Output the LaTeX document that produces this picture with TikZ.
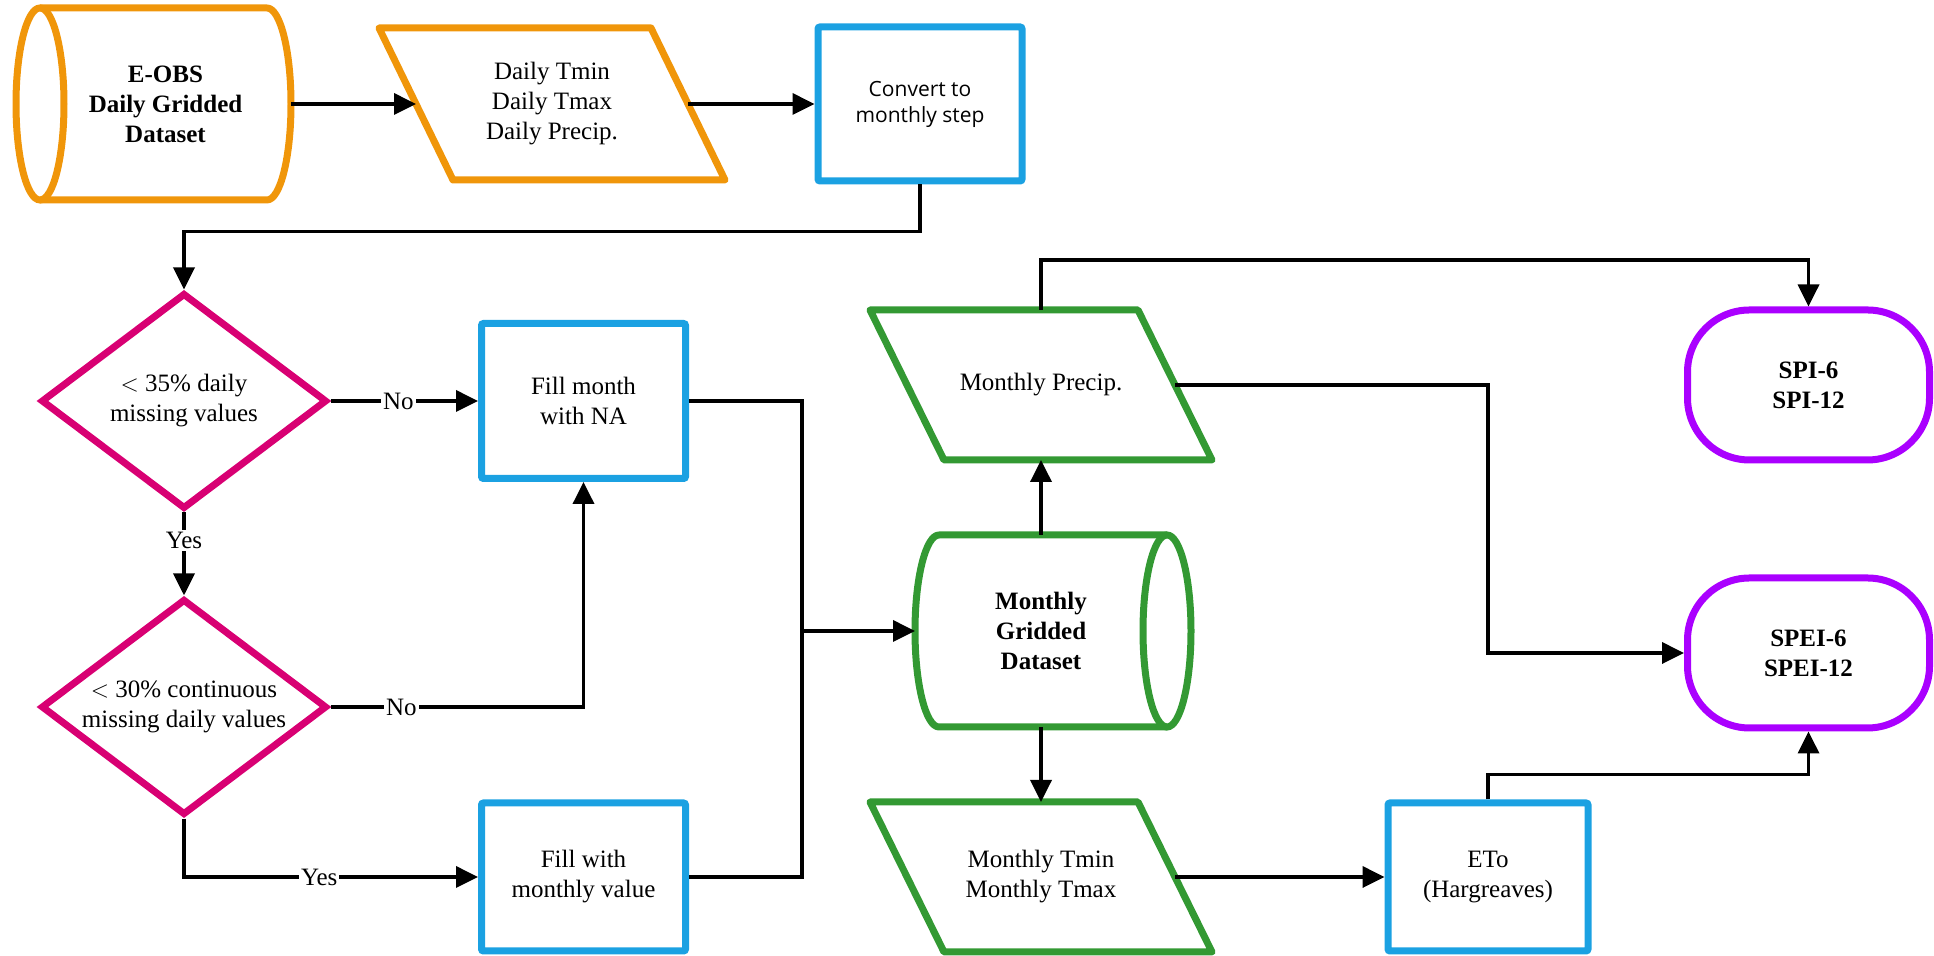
\documentclass[tikz,border=0pt]{standalone}
\usepackage{fontspec}
\setmainfont{Liberation Serif}
\newfontfamily\convfont{Open Sans}
\usetikzlibrary{shapes.geometric,arrows.meta}

\definecolor{eobsorange}{HTML}{F0960A}
\definecolor{stepblue}{HTML}{1BA1E2}
\definecolor{testpink}{HTML}{D80073}
\definecolor{monthgreen}{HTML}{339933}
\definecolor{indexpurple}{HTML}{AA00FF}

\begin{document}
\begin{tikzpicture}
  [x=1pt,y=1pt,every node/.style={align=center,font=\fontsize{12.5}{15}\selectfont,line width=3.5pt}]
 \tikzset{EdgeStyle/.style={-{Triangle[length=11pt,width=10.5pt]},line width=1.8pt}}
 \tikzset{procbox/.style={rectangle,draw=stepblue,rounded corners=1pt,minimum width=102pt,minimum height=77pt}}
 \tikzset{datashape/.style={rectangle,outer sep=0pt,minimum width=134pt,minimum height=75pt}}
 \tikzset{testshape/.style={diamond,draw=testpink,aspect=1.3,inner sep=1pt,minimum width=143pt,minimum height=108pt}}
 \tikzset{termshape/.style={rectangle,rounded corners=31pt,draw=indexpurple,minimum width=121pt,minimum height=75pt,font=\fontsize{12.5}{15}\selectfont\bfseries}}
 \tikzset{drum/.style={rectangle,outer sep=0pt,minimum height=96pt,font=\fontsize{12.5}{15}\selectfont\bfseries}}
 \tikzset{answer/.style={fill=white,inner sep=1pt}}
 \useasboundingbox (0,0) rectangle (967,478);

 \node[drum,minimum width=125.5pt] (eobs) at (82.75,426) {E-OBS\\Daily Gridded\\Dataset};
 \node[datashape,minimum width=136pt,minimum height=76pt] (daily) at (276,426) {Daily Tmin\\Daily Tmax\\Daily Precip.};
 \node[procbox,font=\convfont\fontsize{10.5}{13}\selectfont] (convert) at (460,426) {Convert to\\monthly step};
 \node[testshape] (d1) at (92,277.5) {$<$ 35\% daily\\missing values};
 \node[procbox,minimum height=77.5pt] (fillna) at (291.75,277.5) {Fill month\\with NA};
 \node[testshape] (d2) at (92,124.5) {$<$ 30\% continuous\\missing daily values};
 \node[procbox,minimum height=74pt] (fillmv) at (291.75,39.5) {Fill with\\monthly value};
 \node[drum,minimum width=126pt] (mgd) at (520.5,162.5) {Monthly\\Gridded\\Dataset};
 \node[datashape] (precip) at (520.5,285.5) {Monthly Precip.};
 \node[datashape] (tmin) at (520.5,39.5) {Monthly Tmin\\Monthly Tmax};
 \node[procbox,minimum width=100pt,minimum height=74pt] (eto) at (744,39.5) {ETo\\(Hargreaves)};
 \node[termshape] (spi) at (904.25,285.5) {SPI-6\\SPI-12};
 \node[termshape] (spei) at (904.25,151.5) {SPEI-6\\SPEI-12};
 \coordinate (j) at (401,162.5);

 % drum and data outlines
 \draw[eobsorange,line width=3.5pt,line join=round] (eobs.north west) -- ([xshift=-12pt]eobs.north east)
   arc[start angle=90,end angle=-90,x radius=12pt,y radius=48pt] -- (eobs.south west);
 \draw[eobsorange,line width=3.5pt] (eobs.west) ellipse[x radius=12pt,y radius=48pt];
 \draw[monthgreen,line width=3.5pt,line join=round] (mgd.north east) -- ([xshift=12pt]mgd.north west)
   arc[start angle=90,end angle=270,x radius=12pt,y radius=48pt] -- (mgd.south east);
 \draw[monthgreen,line width=3.5pt] (mgd.east) ellipse[x radius=12pt,y radius=48pt];
 \foreach \n/\c in {daily/eobsorange,precip/monthgreen,tmin/monthgreen}
   \draw[\c,line width=3.5pt,line join=round] ([xshift=-18.5pt]\n.north west) -- ([xshift=-18.5pt]\n.north east)
     -- ([xshift=18.5pt]\n.south east) -- ([xshift=18.5pt]\n.south west) -- cycle;

 \foreach \from/\to in {eobs.east/daily.west,daily.east/convert.west,j/mgd.west,mgd.north/precip.south,mgd.south/tmin.north,tmin.east/eto.west}
    \draw[EdgeStyle] (\from) -- (\to);

 \draw[EdgeStyle] (convert.south) -- ++(0,-23.5) -| (d1.north);
 \draw[EdgeStyle] (d1.east) -- node[answer,pos=0.46] {No} (fillna.west);
 \draw[EdgeStyle] (d1.south) -- node[answer,pos=0.34] {Yes} (d2.north);
 \draw[EdgeStyle] (d2.east) -| node[answer,pos=0.14] {No} (fillna.south);
 \draw[EdgeStyle] (d2.south) |- node[answer,pos=0.73] {Yes} (fillmv.west);
 \draw[line width=1.8pt] (fillna.east) -| (j);
 \draw[line width=1.8pt] (fillmv.east) -| (j);
 \draw[EdgeStyle] (precip.north) -- ++(0,25) -| (spi.north);
 \draw[EdgeStyle] (precip.east) -| (eto.north |- spei.west) -- (spei.west);
 \draw[EdgeStyle] (eto.north) -- ++(0,12.5) -| (spei.south);

\end{tikzpicture}
\end{document}
